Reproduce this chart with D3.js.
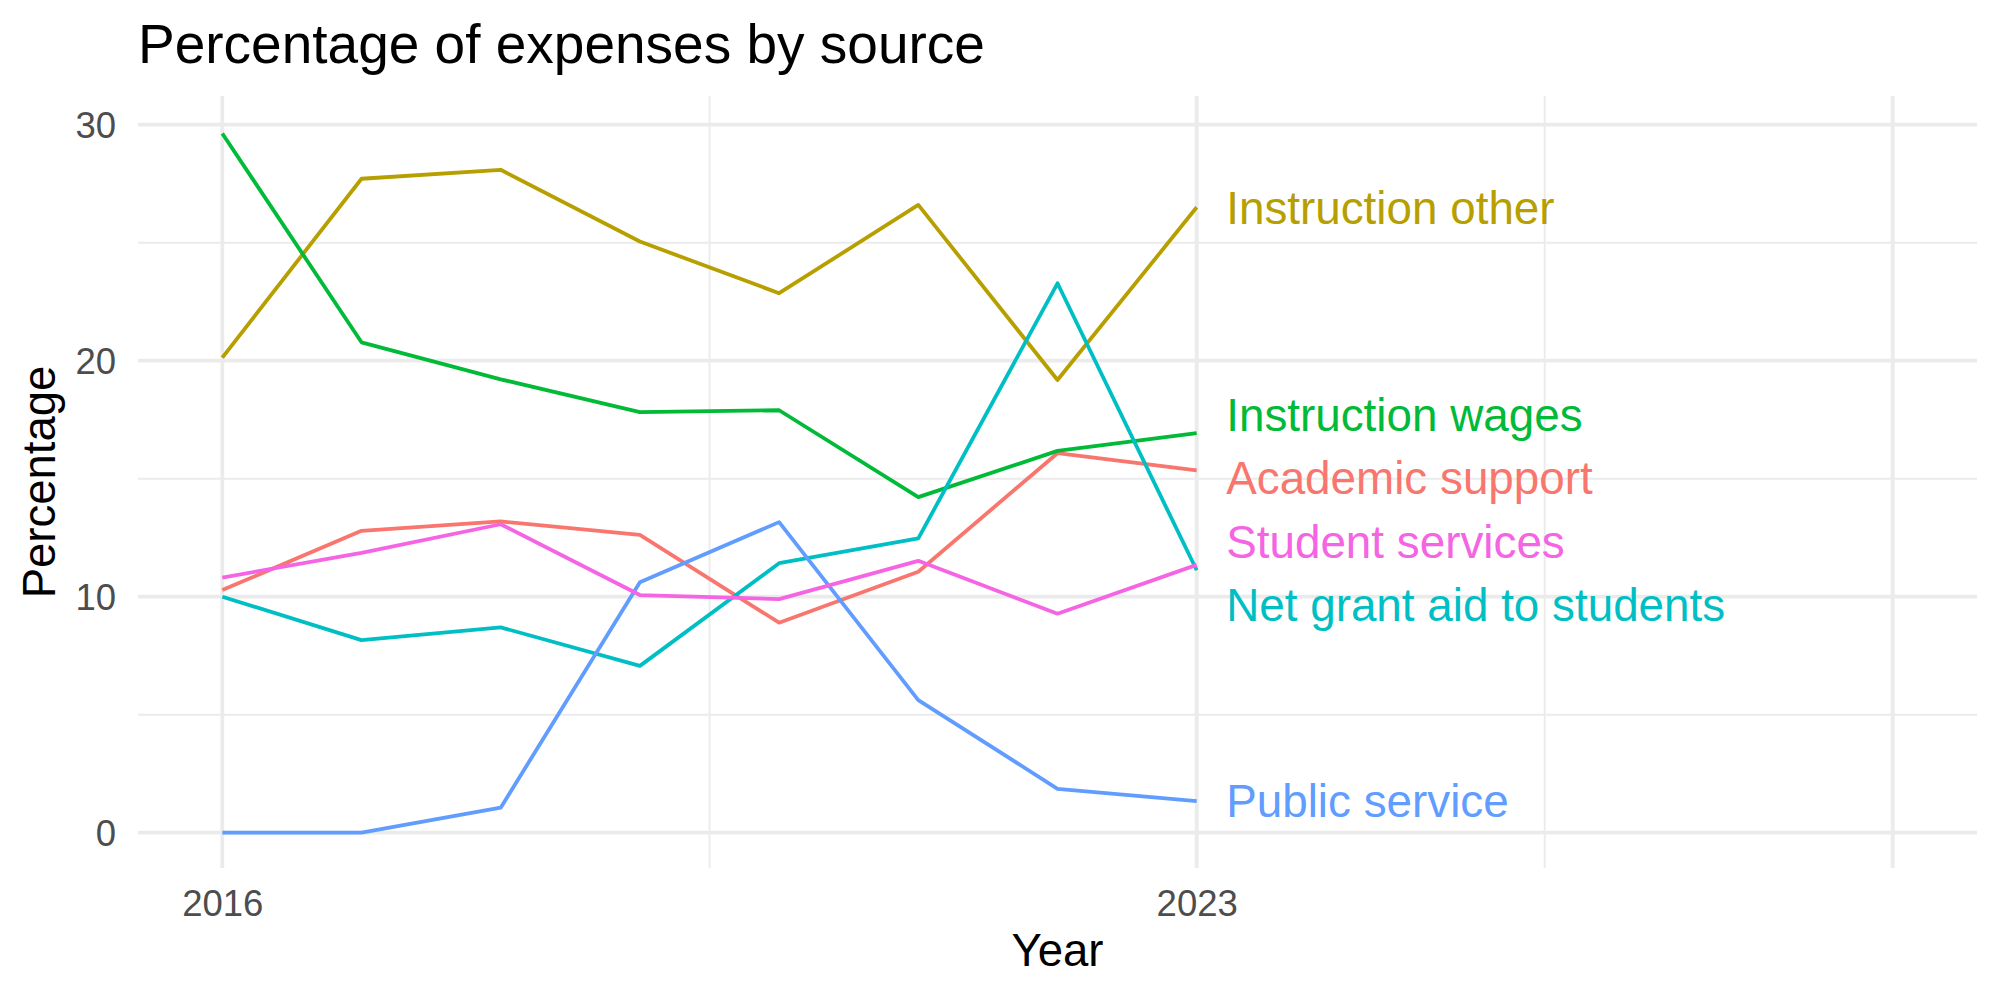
<!DOCTYPE html>
<html>
<head>
<meta charset="utf-8">
<script src="https://cdn.jsdelivr.net/npm/d3@7"></script>
<style>
  html, body { margin: 0; padding: 0; background: #fff; }
  svg { display: block; font-family: "Liberation Sans", Arial, Helvetica, sans-serif; }
</style>
</head>
<body>
<svg id="chart" width="2000" height="1000"></svg>
<script>
// ---------------- data ----------------
const years = [2016, 2017, 2018, 2019, 2020, 2021, 2022, 2023];
const seriesNames = ["Academic support", "Instruction other", "Instruction wages",
                     "Net grant aid to students", "Public service", "Student services"];
const academicSupport   = [10.28, 12.79, 13.19, 12.62, 8.90, 11.06, 16.08, 15.35];
const instructionOther  = [20.13, 27.71, 28.09, 25.05, 22.86, 26.60, 19.18, 26.50];
const instructionWages  = [29.63, 20.78, 19.21, 17.82, 17.90, 14.22, 16.18, 16.93];
const netGrantAid       = [10.00, 8.16, 8.70, 7.07, 11.42, 12.47, 23.28, 11.12];
const publicService     = [0.00, 0.00, 1.06, 10.61, 13.16, 5.62, 1.86, 1.34];
const studentServices   = [10.81, 11.86, 13.07, 10.07, 9.90, 11.52, 9.28, 11.35];
const seriesColors = ["#F8766D", "#B79F00", "#00BA38", "#00BFC4", "#619CFF", "#F564E3"];

const yTicks = [0, 10, 20, 30];
const yMinor = [5, 15, 25];
const xTickValues = [2016, 2023];
const xTickLabels = ["2016", "2023"];
const xMajorGrid = [2016, 2023, 2028];
const xMinorGrid = [2019.5, 2025.5];
const xLimits = [2016, 2028];

const titleText = "Percentage of expenses by source";
const xTitle = "Year";
const yTitle = "Percentage";

const seriesValues = [academicSupport, instructionOther, instructionWages,
                      netGrantAid, publicService, studentServices];
const series = seriesNames.map((name, i) => ({
  name, color: seriesColors[i],
  points: years.map((yr, j) => ({ year: yr, value: seriesValues[i][j] }))
}));

// ---------------- layout ----------------
const panel = { left: 138, right: 1977, top: 96, bottom: 868 };
const svg = d3.select("#chart");

const x = d3.scaleLinear().domain(xLimits).range([222.3, 1892.7]);
const y = d3.scaleLinear().domain([0, 30]).range([832.7, 124.7]);

const GRID = "#EBEBEB";
const g = svg.append("g");

// minor grid
g.selectAll("line.ymin").data(yMinor).join("line")
  .attr("x1", panel.left).attr("x2", panel.right)
  .attr("y1", d => y(d)).attr("y2", d => y(d))
  .attr("stroke", GRID).attr("stroke-width", 1.9);
g.selectAll("line.xmin").data(xMinorGrid).join("line")
  .attr("y1", panel.top).attr("y2", panel.bottom)
  .attr("x1", d => x(d)).attr("x2", d => x(d))
  .attr("stroke", GRID).attr("stroke-width", 1.9);
// major grid
g.selectAll("line.ymaj").data(yTicks).join("line")
  .attr("x1", panel.left).attr("x2", panel.right)
  .attr("y1", d => y(d)).attr("y2", d => y(d))
  .attr("stroke", GRID).attr("stroke-width", 3.8);
g.selectAll("line.xmaj").data(xMajorGrid).join("line")
  .attr("y1", panel.top).attr("y2", panel.bottom)
  .attr("x1", d => x(d)).attr("x2", d => x(d))
  .attr("stroke", GRID).attr("stroke-width", 3.8);

// axes tick labels (using d3 axes, domain/ticks hidden)
const yAxis = d3.axisLeft(y).tickValues(yTicks).tickSize(0).tickPadding(0).tickFormat(d3.format("d"));
const yAxisG = svg.append("g").attr("transform", "translate(116,0)").call(yAxis);
yAxisG.select(".domain").remove();
yAxisG.selectAll("text").attr("font-size", 36.5).attr("fill", "#4D4D4D")
  .attr("font-family", "Liberation Sans, Arial, sans-serif").attr("dy", "0.36em");

const xAxis = d3.axisBottom(x).tickValues(xTickValues).tickSize(0).tickPadding(0)
  .tickFormat((d, i) => xTickLabels[i]);
const xAxisG = svg.append("g").attr("transform", "translate(0,890)").call(xAxis);
xAxisG.select(".domain").remove();
xAxisG.selectAll("text").attr("font-size", 36.5).attr("fill", "#4D4D4D")
  .attr("font-family", "Liberation Sans, Arial, sans-serif").attr("dy", "0.716em");

// lines
const line = d3.line().x(d => x(d.year)).y(d => y(d.value));
svg.append("g").selectAll("path").data(series).join("path")
  .attr("d", d => line(d.points))
  .attr("fill", "none")
  .attr("stroke", d => d.color)
  .attr("stroke-width", 3.8)
  .attr("stroke-linejoin", "round");

// end labels with simple vertical repel
const spacing = 63.3;
const labels = series.map(s => ({ name: s.name, color: s.color,
  target: y(s.points[s.points.length - 1].value) }))
  .sort((a, b) => a.target - b.target);
let clusters = labels.map(l => ({ items: [l], center: l.target }));
let changed = true;
while (changed) {
  changed = false;
  for (let i = 0; i < clusters.length - 1; i++) {
    const a = clusters[i], b = clusters[i + 1];
    const aBottom = a.center + (a.items.length - 1) * spacing / 2;
    const bTop = b.center - (b.items.length - 1) * spacing / 2;
    if (bTop - aBottom < spacing) {
      const items = a.items.concat(b.items);
      const center = d3.mean(items, d => d.target);
      clusters.splice(i, 2, { items, center });
      changed = true;
      break;
    }
  }
}
clusters.forEach(c => c.items.forEach((it, k) => {
  it.pos = c.center + (k - (c.items.length - 1) / 2) * spacing;
}));

svg.append("g").selectAll("text").data(labels).join("text")
  .attr("x", x(2023) + 29.5)
  .attr("y", d => d.pos)
  .attr("dy", "0.358em")
  .attr("font-size", 45.8)
  .attr("fill", d => d.color)
  .text(d => d.name);

// titles
svg.append("text").attr("x", 138).attr("y", 63)
  .attr("font-size", 55).attr("fill", "#000").text(titleText);
svg.append("text").attr("x", (panel.left + panel.right) / 2).attr("y", 966)
  .attr("text-anchor", "middle").attr("font-size", 45.5).attr("fill", "#000").text(xTitle);
svg.append("text")
  .attr("transform", `translate(55,${(panel.top + panel.bottom) / 2}) rotate(-90)`)
  .attr("text-anchor", "middle").attr("font-size", 45.5).attr("fill", "#000").text(yTitle);
</script>
</body>
</html>
